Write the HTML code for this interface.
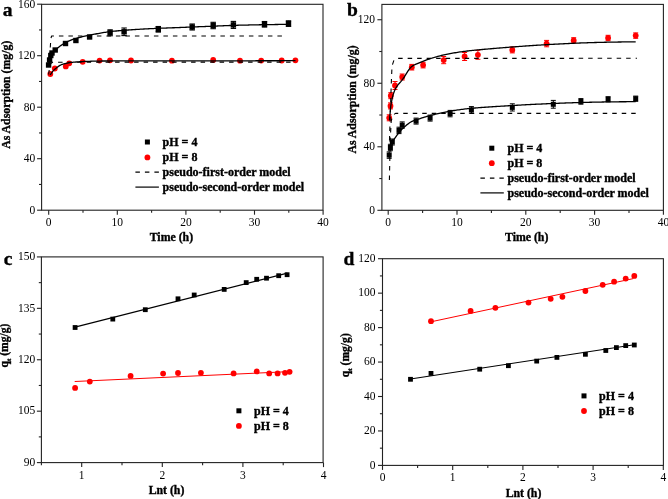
<!DOCTYPE html>
<html><head><meta charset="utf-8"><style>
html,body{margin:0;padding:0;background:#fff;}
body{width:668px;height:499px;overflow:hidden;}
svg{display:block;will-change:transform;filter:blur(0.3px);}
text{font-family:"Liberation Serif", serif;fill:#000;}
text[font-weight=bold]{stroke:#000;stroke-width:0.35px;}
</style></head><body>
<svg width="668" height="499" viewBox="0 0 668 499">
<rect width="668" height="499" fill="#fff"/>
<rect x="41.60" y="4.30" width="281.40" height="205.90" fill="none" stroke="#222" stroke-width="1.1"/>
<line x1="48.70" y1="210.20" x2="48.70" y2="214.70" stroke="#222" stroke-width="1.1" />
<line x1="117.30" y1="210.20" x2="117.30" y2="214.70" stroke="#222" stroke-width="1.1" />
<line x1="185.90" y1="210.20" x2="185.90" y2="214.70" stroke="#222" stroke-width="1.1" />
<line x1="254.50" y1="210.20" x2="254.50" y2="214.70" stroke="#222" stroke-width="1.1" />
<line x1="323.10" y1="210.20" x2="323.10" y2="214.70" stroke="#222" stroke-width="1.1" />
<line x1="83.00" y1="210.20" x2="83.00" y2="212.80" stroke="#222" stroke-width="1.1" />
<line x1="151.60" y1="210.20" x2="151.60" y2="212.80" stroke="#222" stroke-width="1.1" />
<line x1="220.20" y1="210.20" x2="220.20" y2="212.80" stroke="#222" stroke-width="1.1" />
<line x1="288.80" y1="210.20" x2="288.80" y2="212.80" stroke="#222" stroke-width="1.1" />
<line x1="41.60" y1="210.20" x2="37.10" y2="210.20" stroke="#222" stroke-width="1.1" />
<line x1="41.60" y1="158.70" x2="37.10" y2="158.70" stroke="#222" stroke-width="1.1" />
<line x1="41.60" y1="107.20" x2="37.10" y2="107.20" stroke="#222" stroke-width="1.1" />
<line x1="41.60" y1="55.70" x2="37.10" y2="55.70" stroke="#222" stroke-width="1.1" />
<line x1="41.60" y1="4.20" x2="37.10" y2="4.20" stroke="#222" stroke-width="1.1" />
<line x1="41.60" y1="184.45" x2="39.00" y2="184.45" stroke="#222" stroke-width="1.1" />
<line x1="41.60" y1="132.95" x2="39.00" y2="132.95" stroke="#222" stroke-width="1.1" />
<line x1="41.60" y1="81.45" x2="39.00" y2="81.45" stroke="#222" stroke-width="1.1" />
<line x1="41.60" y1="29.95" x2="39.00" y2="29.95" stroke="#222" stroke-width="1.1" />
<text x="48.70" y="226.00" font-size="11.5" font-weight="normal" text-anchor="middle" >0</text>
<text x="117.30" y="226.00" font-size="11.5" font-weight="normal" text-anchor="middle" >10</text>
<text x="185.90" y="226.00" font-size="11.5" font-weight="normal" text-anchor="middle" >20</text>
<text x="254.50" y="226.00" font-size="11.5" font-weight="normal" text-anchor="middle" >30</text>
<text x="323.10" y="226.00" font-size="11.5" font-weight="normal" text-anchor="middle" >40</text>
<text x="35.20" y="213.50" font-size="11.5" font-weight="normal" text-anchor="end" >0</text>
<text x="35.20" y="162.00" font-size="11.5" font-weight="normal" text-anchor="end" >40</text>
<text x="35.20" y="110.50" font-size="11.5" font-weight="normal" text-anchor="end" >80</text>
<text x="35.20" y="59.00" font-size="11.5" font-weight="normal" text-anchor="end" >120</text>
<text x="35.20" y="7.50" font-size="11.5" font-weight="normal" text-anchor="end" >160</text>
<text x="7.50" y="16.00" font-size="19.5" font-weight="bold" text-anchor="middle" >a</text>
<text x="171.40" y="240.80" font-size="11.8" font-weight="bold" text-anchor="middle" >Time (h)</text>
<text transform="translate(10.3,94.75) rotate(-90)" font-size="11.8" font-weight="bold" text-anchor="middle">As Adsorption (mg/g)</text>
<rect x="45.90" y="62.30" width="5.4" height="5.4" fill="#000"/>
<rect x="46.90" y="57.30" width="5.4" height="5.4" fill="#000"/>
<rect x="48.10" y="52.80" width="5.4" height="5.4" fill="#000"/>
<rect x="49.30" y="50.30" width="5.4" height="5.4" fill="#000"/>
<rect x="52.50" y="47.30" width="5.4" height="5.4" fill="#000"/>
<rect x="62.80" y="40.80" width="5.4" height="5.4" fill="#000"/>
<rect x="73.20" y="37.80" width="5.4" height="5.4" fill="#000"/>
<rect x="86.90" y="34.30" width="5.4" height="5.4" fill="#000"/>
<rect x="107.40" y="30.10" width="5.4" height="5.4" fill="#000"/>
<line x1="110.10" y1="29.80" x2="110.10" y2="35.80" stroke="#000" stroke-width="1.1" />
<line x1="107.40" y1="29.80" x2="112.80" y2="29.80" stroke="#000" stroke-width="1.1" />
<line x1="107.40" y1="35.80" x2="112.80" y2="35.80" stroke="#000" stroke-width="1.1" />
<rect x="121.40" y="29.10" width="5.4" height="5.4" fill="#000"/>
<line x1="124.10" y1="28.00" x2="124.10" y2="35.60" stroke="#000" stroke-width="1.1" />
<line x1="121.40" y1="28.00" x2="126.80" y2="28.00" stroke="#000" stroke-width="1.1" />
<line x1="121.40" y1="35.60" x2="126.80" y2="35.60" stroke="#000" stroke-width="1.1" />
<rect x="155.60" y="26.60" width="5.4" height="5.4" fill="#000"/>
<line x1="158.30" y1="26.50" x2="158.30" y2="32.10" stroke="#000" stroke-width="1.1" />
<line x1="155.60" y1="26.50" x2="161.00" y2="26.50" stroke="#000" stroke-width="1.1" />
<line x1="155.60" y1="32.10" x2="161.00" y2="32.10" stroke="#000" stroke-width="1.1" />
<rect x="189.50" y="24.30" width="5.4" height="5.4" fill="#000"/>
<line x1="192.20" y1="24.00" x2="192.20" y2="30.00" stroke="#000" stroke-width="1.1" />
<line x1="189.50" y1="24.00" x2="194.90" y2="24.00" stroke="#000" stroke-width="1.1" />
<line x1="189.50" y1="30.00" x2="194.90" y2="30.00" stroke="#000" stroke-width="1.1" />
<rect x="210.50" y="22.80" width="5.4" height="5.4" fill="#000"/>
<line x1="213.20" y1="22.30" x2="213.20" y2="28.70" stroke="#000" stroke-width="1.1" />
<line x1="210.50" y1="22.30" x2="215.90" y2="22.30" stroke="#000" stroke-width="1.1" />
<line x1="210.50" y1="28.70" x2="215.90" y2="28.70" stroke="#000" stroke-width="1.1" />
<rect x="230.70" y="22.20" width="5.4" height="5.4" fill="#000"/>
<line x1="233.40" y1="21.40" x2="233.40" y2="28.40" stroke="#000" stroke-width="1.1" />
<line x1="230.70" y1="21.40" x2="236.10" y2="21.40" stroke="#000" stroke-width="1.1" />
<line x1="230.70" y1="28.40" x2="236.10" y2="28.40" stroke="#000" stroke-width="1.1" />
<rect x="261.80" y="21.60" width="5.4" height="5.4" fill="#000"/>
<line x1="264.50" y1="21.50" x2="264.50" y2="27.10" stroke="#000" stroke-width="1.1" />
<line x1="261.80" y1="21.50" x2="267.20" y2="21.50" stroke="#000" stroke-width="1.1" />
<line x1="261.80" y1="27.10" x2="267.20" y2="27.10" stroke="#000" stroke-width="1.1" />
<rect x="285.80" y="20.90" width="5.4" height="5.4" fill="#000"/>
<line x1="288.50" y1="20.80" x2="288.50" y2="26.40" stroke="#000" stroke-width="1.1" />
<line x1="285.80" y1="20.80" x2="291.20" y2="20.80" stroke="#000" stroke-width="1.1" />
<line x1="285.80" y1="26.40" x2="291.20" y2="26.40" stroke="#000" stroke-width="1.1" />
<circle cx="50.30" cy="74.00" r="2.9" fill="#ff0000"/>
<circle cx="54.80" cy="68.50" r="2.9" fill="#ff0000"/>
<circle cx="65.80" cy="66.40" r="2.9" fill="#ff0000"/>
<circle cx="69.20" cy="63.30" r="2.9" fill="#ff0000"/>
<circle cx="82.70" cy="61.80" r="2.9" fill="#ff0000"/>
<circle cx="99.60" cy="60.60" r="2.9" fill="#ff0000"/>
<circle cx="110.00" cy="60.30" r="2.9" fill="#ff0000"/>
<circle cx="131.00" cy="60.50" r="2.9" fill="#ff0000"/>
<circle cx="171.90" cy="60.70" r="2.9" fill="#ff0000"/>
<circle cx="213.20" cy="60.00" r="2.9" fill="#ff0000"/>
<circle cx="240.00" cy="60.70" r="2.9" fill="#ff0000"/>
<circle cx="261.20" cy="60.60" r="2.9" fill="#ff0000"/>
<circle cx="281.70" cy="60.50" r="2.9" fill="#ff0000"/>
<circle cx="295.40" cy="60.30" r="2.9" fill="#ff0000"/>
<polyline points="48.60,66.50 50.30,47.00 50.90,38.50 51.60,36.00 285.00,36.00" fill="none" stroke="#000" stroke-width="1.1" stroke-dasharray="4.5 5" stroke-linejoin="round"/>
<polyline points="48.60,74.50 49.60,67.00 50.80,63.50 52.50,62.20 295.00,62.10" fill="none" stroke="#000" stroke-width="1.1" stroke-dasharray="4.5 5" stroke-linejoin="round"/>
<polyline points="48.70,66.00 49.91,59.93 51.11,55.39 52.32,53.18 53.52,51.71 54.73,50.59 55.93,49.56 57.14,48.50 58.34,47.48 59.55,46.51 60.75,45.60 61.96,44.74 63.16,43.95 64.37,43.22 65.57,42.56 66.78,41.96 67.98,41.39 69.19,40.86 70.39,40.36 71.60,39.89 72.80,39.44 74.01,39.03 75.21,38.64 76.42,38.28 77.62,37.93 78.83,37.60 80.03,37.29 81.24,37.00 82.44,36.71 83.65,36.44 84.85,36.18 86.06,35.92 87.26,35.67 88.47,35.43 89.67,35.19 90.88,34.94 92.08,34.70 93.29,34.46 94.49,34.23 95.70,33.99 96.90,33.76 98.11,33.53 99.31,33.30 100.52,33.08 101.72,32.87 102.93,32.66 104.13,32.46 105.34,32.27 106.54,32.09 107.75,31.92 108.95,31.76 110.16,31.61 111.36,31.47 112.57,31.34 113.77,31.22 114.98,31.10 116.18,30.99 117.39,30.87 118.59,30.76 119.80,30.66 121.00,30.56 122.21,30.45 123.41,30.36 124.62,30.26 125.82,30.17 127.03,30.08 128.23,29.99 129.44,29.91 130.64,29.82 131.85,29.74 133.05,29.66 134.26,29.58 135.46,29.51 136.67,29.43 137.87,29.36 139.08,29.29 140.28,29.22 141.49,29.15 142.69,29.08 143.90,29.02 145.10,28.95 146.31,28.89 147.51,28.83 148.72,28.77 149.92,28.70 151.13,28.64 152.33,28.59 153.54,28.53 154.74,28.47 155.95,28.42 157.15,28.37 158.36,28.32 159.56,28.27 160.77,28.22 161.97,28.18 163.18,28.13 164.38,28.08 165.59,28.04 166.79,27.99 168.00,27.95 169.20,27.91 170.41,27.86 171.61,27.82 172.82,27.77 174.02,27.73 175.23,27.68 176.43,27.64 177.64,27.59 178.84,27.55 180.05,27.50 181.25,27.45 182.46,27.40 183.66,27.35 184.87,27.30 186.07,27.26 187.28,27.21 188.48,27.16 189.69,27.11 190.89,27.06 192.10,27.01 193.30,26.96 194.51,26.91 195.71,26.86 196.92,26.82 198.12,26.77 199.33,26.72 200.53,26.67 201.74,26.62 202.94,26.58 204.15,26.53 205.35,26.48 206.56,26.43 207.76,26.39 208.97,26.34 210.17,26.29 211.38,26.25 212.58,26.20 213.79,26.15 214.99,26.10 216.20,26.05 217.40,26.00 218.61,25.95 219.81,25.90 221.02,25.86 222.22,25.81 223.43,25.76 224.63,25.71 225.84,25.66 227.04,25.61 228.25,25.57 229.45,25.52 230.66,25.48 231.86,25.44 233.07,25.40 234.27,25.36 235.48,25.32 236.68,25.29 237.89,25.25 239.09,25.22 240.30,25.19 241.50,25.16 242.71,25.14 243.91,25.11 245.12,25.08 246.32,25.05 247.53,25.03 248.73,25.00 249.94,24.97 251.14,24.95 252.35,24.92 253.55,24.89 254.76,24.87 255.96,24.84 257.17,24.82 258.37,24.79 259.58,24.77 260.78,24.75 261.99,24.72 263.19,24.70 264.40,24.68 265.60,24.66 266.81,24.64 268.01,24.62 269.22,24.60 270.42,24.58 271.63,24.56 272.83,24.55 274.04,24.53 275.24,24.51 276.45,24.50 277.65,24.48 278.86,24.47 280.06,24.46 281.27,24.45 282.47,24.44 283.68,24.43 284.88,24.42 286.09,24.41 287.29,24.41 288.50,24.40" fill="none" stroke="#000" stroke-width="1.3"  stroke-linejoin="round"/>
<polyline points="50.20,75.00 51.43,73.04 52.67,71.39 53.90,70.08 55.13,68.99 56.36,68.02 57.60,67.05 58.83,66.13 60.06,65.33 61.29,64.71 62.53,64.29 63.76,63.92 64.99,63.59 66.22,63.30 67.46,63.04 68.69,62.82 69.92,62.63 71.16,62.46 72.39,62.33 73.62,62.20 74.85,62.08 76.09,61.98 77.32,61.88 78.55,61.79 79.78,61.71 81.02,61.64 82.25,61.58 83.48,61.52 84.71,61.47 85.95,61.43 87.18,61.38 88.41,61.34 89.65,61.29 90.88,61.25 92.11,61.22 93.34,61.18 94.58,61.15 95.81,61.12 97.04,61.09 98.27,61.06 99.51,61.04 100.74,61.03 101.97,61.01 103.20,61.00 104.44,61.00 105.67,60.99 106.90,60.99 108.14,60.99 109.37,60.98 110.60,60.98 111.83,60.98 113.07,60.97 114.30,60.97 115.53,60.97 116.76,60.97 118.00,60.96 119.23,60.96 120.46,60.96 121.69,60.96 122.93,60.95 124.16,60.95 125.39,60.95 126.63,60.95 127.86,60.95 129.09,60.94 130.32,60.94 131.56,60.94 132.79,60.94 134.02,60.94 135.25,60.94 136.49,60.94 137.72,60.93 138.95,60.93 140.18,60.93 141.42,60.93 142.65,60.93 143.88,60.93 145.12,60.93 146.35,60.93 147.58,60.93 148.81,60.92 150.05,60.92 151.28,60.92 152.51,60.92 153.74,60.92 154.98,60.92 156.21,60.92 157.44,60.92 158.67,60.92 159.91,60.91 161.14,60.91 162.37,60.91 163.61,60.91 164.84,60.91 166.07,60.91 167.30,60.91 168.54,60.90 169.77,60.90 171.00,60.90 172.23,60.90 173.47,60.90 174.70,60.90 175.93,60.89 177.16,60.89 178.40,60.89 179.63,60.89 180.86,60.89 182.09,60.89 183.33,60.88 184.56,60.88 185.79,60.88 187.03,60.88 188.26,60.88 189.49,60.87 190.72,60.87 191.96,60.87 193.19,60.87 194.42,60.87 195.65,60.87 196.89,60.86 198.12,60.86 199.35,60.86 200.58,60.86 201.82,60.86 203.05,60.86 204.28,60.85 205.52,60.85 206.75,60.85 207.98,60.85 209.21,60.85 210.45,60.84 211.68,60.84 212.91,60.84 214.14,60.84 215.38,60.84 216.61,60.84 217.84,60.83 219.07,60.83 220.31,60.83 221.54,60.83 222.77,60.83 224.01,60.82 225.24,60.82 226.47,60.82 227.70,60.82 228.94,60.82 230.17,60.82 231.40,60.81 232.63,60.81 233.87,60.81 235.10,60.81 236.33,60.81 237.56,60.80 238.80,60.80 240.03,60.80 241.26,60.80 242.50,60.80 243.73,60.79 244.96,60.79 246.19,60.79 247.43,60.79 248.66,60.79 249.89,60.78 251.12,60.78 252.36,60.78 253.59,60.78 254.82,60.78 256.05,60.77 257.29,60.77 258.52,60.77 259.75,60.77 260.99,60.76 262.22,60.76 263.45,60.76 264.68,60.76 265.92,60.76 267.15,60.75 268.38,60.75 269.61,60.75 270.85,60.75 272.08,60.74 273.31,60.74 274.54,60.74 275.78,60.74 277.01,60.74 278.24,60.73 279.48,60.73 280.71,60.73 281.94,60.73 283.17,60.72 284.41,60.72 285.64,60.72 286.87,60.72 288.10,60.71 289.34,60.71 290.57,60.71 291.80,60.71 293.03,60.70 294.27,60.70 295.50,60.70" fill="none" stroke="#000" stroke-width="1.3"  stroke-linejoin="round"/>
<rect x="144.90" y="139.50" width="5.0" height="5.0" fill="#000"/>
<circle cx="147.40" cy="157.40" r="2.9" fill="#ff0000"/>
<text x="162.60" y="145.80" font-size="12.0" font-weight="bold" text-anchor="start" >pH = 4</text>
<text x="162.60" y="161.20" font-size="12.0" font-weight="bold" text-anchor="start" >pH = 8</text>
<line x1="135.40" y1="172.10" x2="158.90" y2="172.10" stroke="#000" stroke-width="1.2" stroke-dasharray="4.5 5"/>
<line x1="135.40" y1="187.10" x2="158.90" y2="187.10" stroke="#000" stroke-width="1.2" />
<text x="162.60" y="175.90" font-size="12.0" font-weight="bold" text-anchor="start" >pseudo-first-order model</text>
<text x="162.60" y="190.90" font-size="12.0" font-weight="bold" text-anchor="start" >pseudo-second-order model</text>
<rect x="381.90" y="4.40" width="281.50" height="205.90" fill="none" stroke="#222" stroke-width="1.1"/>
<line x1="388.20" y1="210.30" x2="388.20" y2="214.80" stroke="#222" stroke-width="1.1" />
<line x1="457.00" y1="210.30" x2="457.00" y2="214.80" stroke="#222" stroke-width="1.1" />
<line x1="525.80" y1="210.30" x2="525.80" y2="214.80" stroke="#222" stroke-width="1.1" />
<line x1="594.60" y1="210.30" x2="594.60" y2="214.80" stroke="#222" stroke-width="1.1" />
<line x1="663.40" y1="210.30" x2="663.40" y2="214.80" stroke="#222" stroke-width="1.1" />
<line x1="422.60" y1="210.30" x2="422.60" y2="212.90" stroke="#222" stroke-width="1.1" />
<line x1="491.40" y1="210.30" x2="491.40" y2="212.90" stroke="#222" stroke-width="1.1" />
<line x1="560.20" y1="210.30" x2="560.20" y2="212.90" stroke="#222" stroke-width="1.1" />
<line x1="629.00" y1="210.30" x2="629.00" y2="212.90" stroke="#222" stroke-width="1.1" />
<line x1="381.90" y1="210.30" x2="377.40" y2="210.30" stroke="#222" stroke-width="1.1" />
<line x1="381.90" y1="146.78" x2="377.40" y2="146.78" stroke="#222" stroke-width="1.1" />
<line x1="381.90" y1="83.26" x2="377.40" y2="83.26" stroke="#222" stroke-width="1.1" />
<line x1="381.90" y1="19.74" x2="377.40" y2="19.74" stroke="#222" stroke-width="1.1" />
<line x1="381.90" y1="178.54" x2="379.30" y2="178.54" stroke="#222" stroke-width="1.1" />
<line x1="381.90" y1="115.02" x2="379.30" y2="115.02" stroke="#222" stroke-width="1.1" />
<line x1="381.90" y1="51.50" x2="379.30" y2="51.50" stroke="#222" stroke-width="1.1" />
<text x="388.20" y="226.00" font-size="11.5" font-weight="normal" text-anchor="middle" >0</text>
<text x="457.00" y="226.00" font-size="11.5" font-weight="normal" text-anchor="middle" >10</text>
<text x="525.80" y="226.00" font-size="11.5" font-weight="normal" text-anchor="middle" >20</text>
<text x="594.60" y="226.00" font-size="11.5" font-weight="normal" text-anchor="middle" >30</text>
<text x="663.40" y="226.00" font-size="11.5" font-weight="normal" text-anchor="middle" >40</text>
<text x="375.00" y="213.60" font-size="11.5" font-weight="normal" text-anchor="end" >0</text>
<text x="375.00" y="150.08" font-size="11.5" font-weight="normal" text-anchor="end" >40</text>
<text x="375.00" y="86.56" font-size="11.5" font-weight="normal" text-anchor="end" >80</text>
<text x="375.00" y="23.04" font-size="11.5" font-weight="normal" text-anchor="end" >120</text>
<text x="352.50" y="16.00" font-size="19.5" font-weight="bold" text-anchor="middle" >b</text>
<text x="526.70" y="240.60" font-size="11.8" font-weight="bold" text-anchor="middle" >Time (h)</text>
<text transform="translate(355.8,99.5) rotate(-90)" font-size="11.8" font-weight="bold" text-anchor="middle">As Adsorption (mg/g)</text>
<rect x="386.70" y="152.60" width="5.0" height="5.0" fill="#000"/>
<line x1="389.20" y1="151.90" x2="389.20" y2="158.30" stroke="#000" stroke-width="1.0" />
<line x1="386.70" y1="151.90" x2="391.70" y2="151.90" stroke="#000" stroke-width="1.0" />
<line x1="386.70" y1="158.30" x2="391.70" y2="158.30" stroke="#000" stroke-width="1.0" />
<rect x="387.90" y="145.00" width="5.0" height="5.0" fill="#000"/>
<line x1="390.40" y1="144.30" x2="390.40" y2="150.70" stroke="#000" stroke-width="1.0" />
<line x1="387.90" y1="144.30" x2="392.90" y2="144.30" stroke="#000" stroke-width="1.0" />
<line x1="387.90" y1="150.70" x2="392.90" y2="150.70" stroke="#000" stroke-width="1.0" />
<rect x="389.80" y="139.50" width="5.0" height="5.0" fill="#000"/>
<line x1="392.30" y1="139.00" x2="392.30" y2="145.00" stroke="#000" stroke-width="1.0" />
<line x1="389.80" y1="139.00" x2="394.80" y2="139.00" stroke="#000" stroke-width="1.0" />
<line x1="389.80" y1="145.00" x2="394.80" y2="145.00" stroke="#000" stroke-width="1.0" />
<rect x="396.50" y="127.90" width="5.0" height="5.0" fill="#000"/>
<line x1="399.00" y1="127.20" x2="399.00" y2="133.60" stroke="#000" stroke-width="1.0" />
<line x1="396.50" y1="127.20" x2="401.50" y2="127.20" stroke="#000" stroke-width="1.0" />
<line x1="396.50" y1="133.60" x2="401.50" y2="133.60" stroke="#000" stroke-width="1.0" />
<rect x="399.70" y="122.60" width="5.0" height="5.0" fill="#000"/>
<line x1="402.20" y1="121.90" x2="402.20" y2="128.30" stroke="#000" stroke-width="1.0" />
<line x1="399.70" y1="121.90" x2="404.70" y2="121.90" stroke="#000" stroke-width="1.0" />
<line x1="399.70" y1="128.30" x2="404.70" y2="128.30" stroke="#000" stroke-width="1.0" />
<rect x="413.60" y="118.60" width="5.0" height="5.0" fill="#000"/>
<line x1="416.10" y1="118.10" x2="416.10" y2="124.10" stroke="#000" stroke-width="1.0" />
<line x1="413.60" y1="118.10" x2="418.60" y2="118.10" stroke="#000" stroke-width="1.0" />
<line x1="413.60" y1="124.10" x2="418.60" y2="124.10" stroke="#000" stroke-width="1.0" />
<rect x="427.60" y="115.60" width="5.0" height="5.0" fill="#000"/>
<line x1="430.10" y1="115.10" x2="430.10" y2="121.10" stroke="#000" stroke-width="1.0" />
<line x1="427.60" y1="115.10" x2="432.60" y2="115.10" stroke="#000" stroke-width="1.0" />
<line x1="427.60" y1="121.10" x2="432.60" y2="121.10" stroke="#000" stroke-width="1.0" />
<rect x="447.60" y="111.10" width="5.0" height="5.0" fill="#000"/>
<line x1="450.10" y1="110.40" x2="450.10" y2="116.80" stroke="#000" stroke-width="1.0" />
<line x1="447.60" y1="110.40" x2="452.60" y2="110.40" stroke="#000" stroke-width="1.0" />
<line x1="447.60" y1="116.80" x2="452.60" y2="116.80" stroke="#000" stroke-width="1.0" />
<rect x="468.90" y="107.40" width="5.0" height="5.0" fill="#000"/>
<line x1="471.40" y1="106.60" x2="471.40" y2="113.20" stroke="#000" stroke-width="1.0" />
<line x1="468.90" y1="106.60" x2="473.90" y2="106.60" stroke="#000" stroke-width="1.0" />
<line x1="468.90" y1="113.20" x2="473.90" y2="113.20" stroke="#000" stroke-width="1.0" />
<rect x="509.80" y="104.90" width="5.0" height="5.0" fill="#000"/>
<line x1="512.30" y1="103.80" x2="512.30" y2="111.00" stroke="#000" stroke-width="1.0" />
<line x1="509.80" y1="103.80" x2="514.80" y2="103.80" stroke="#000" stroke-width="1.0" />
<line x1="509.80" y1="111.00" x2="514.80" y2="111.00" stroke="#000" stroke-width="1.0" />
<rect x="550.80" y="101.80" width="5.0" height="5.0" fill="#000"/>
<line x1="553.30" y1="100.40" x2="553.30" y2="108.20" stroke="#000" stroke-width="1.0" />
<line x1="550.80" y1="100.40" x2="555.80" y2="100.40" stroke="#000" stroke-width="1.0" />
<line x1="550.80" y1="108.20" x2="555.80" y2="108.20" stroke="#000" stroke-width="1.0" />
<rect x="578.40" y="98.90" width="5.0" height="5.0" fill="#000"/>
<line x1="580.90" y1="98.60" x2="580.90" y2="104.20" stroke="#000" stroke-width="1.0" />
<line x1="578.40" y1="98.60" x2="583.40" y2="98.60" stroke="#000" stroke-width="1.0" />
<line x1="578.40" y1="104.20" x2="583.40" y2="104.20" stroke="#000" stroke-width="1.0" />
<rect x="605.60" y="96.80" width="5.0" height="5.0" fill="#000"/>
<line x1="608.10" y1="96.70" x2="608.10" y2="101.90" stroke="#000" stroke-width="1.0" />
<line x1="605.60" y1="96.70" x2="610.60" y2="96.70" stroke="#000" stroke-width="1.0" />
<line x1="605.60" y1="101.90" x2="610.60" y2="101.90" stroke="#000" stroke-width="1.0" />
<rect x="633.20" y="96.20" width="5.0" height="5.0" fill="#000"/>
<line x1="635.70" y1="96.10" x2="635.70" y2="101.30" stroke="#000" stroke-width="1.0" />
<line x1="633.20" y1="96.10" x2="638.20" y2="96.10" stroke="#000" stroke-width="1.0" />
<line x1="633.20" y1="101.30" x2="638.20" y2="101.30" stroke="#000" stroke-width="1.0" />
<circle cx="389.20" cy="117.80" r="2.9" fill="#ff0000"/>
<line x1="389.20" y1="114.80" x2="389.20" y2="120.80" stroke="#ff0000" stroke-width="1.0" />
<line x1="386.70" y1="114.80" x2="391.70" y2="114.80" stroke="#ff0000" stroke-width="1.0" />
<line x1="386.70" y1="120.80" x2="391.70" y2="120.80" stroke="#ff0000" stroke-width="1.0" />
<circle cx="390.50" cy="105.90" r="2.9" fill="#ff0000"/>
<line x1="390.50" y1="102.90" x2="390.50" y2="108.90" stroke="#ff0000" stroke-width="1.0" />
<line x1="388.00" y1="102.90" x2="393.00" y2="102.90" stroke="#ff0000" stroke-width="1.0" />
<line x1="388.00" y1="108.90" x2="393.00" y2="108.90" stroke="#ff0000" stroke-width="1.0" />
<circle cx="390.80" cy="95.70" r="2.9" fill="#ff0000"/>
<line x1="390.80" y1="92.70" x2="390.80" y2="98.70" stroke="#ff0000" stroke-width="1.0" />
<line x1="388.30" y1="92.70" x2="393.30" y2="92.70" stroke="#ff0000" stroke-width="1.0" />
<line x1="388.30" y1="98.70" x2="393.30" y2="98.70" stroke="#ff0000" stroke-width="1.0" />
<circle cx="395.00" cy="85.50" r="2.9" fill="#ff0000"/>
<line x1="395.00" y1="81.50" x2="395.00" y2="89.50" stroke="#ff0000" stroke-width="1.0" />
<line x1="392.50" y1="81.50" x2="397.50" y2="81.50" stroke="#ff0000" stroke-width="1.0" />
<line x1="392.50" y1="89.50" x2="397.50" y2="89.50" stroke="#ff0000" stroke-width="1.0" />
<circle cx="402.20" cy="77.00" r="2.9" fill="#ff0000"/>
<line x1="402.20" y1="74.00" x2="402.20" y2="80.00" stroke="#ff0000" stroke-width="1.0" />
<line x1="399.70" y1="74.00" x2="404.70" y2="74.00" stroke="#ff0000" stroke-width="1.0" />
<line x1="399.70" y1="80.00" x2="404.70" y2="80.00" stroke="#ff0000" stroke-width="1.0" />
<circle cx="411.80" cy="67.20" r="2.9" fill="#ff0000"/>
<line x1="411.80" y1="64.40" x2="411.80" y2="70.00" stroke="#ff0000" stroke-width="1.0" />
<line x1="409.30" y1="64.40" x2="414.30" y2="64.40" stroke="#ff0000" stroke-width="1.0" />
<line x1="409.30" y1="70.00" x2="414.30" y2="70.00" stroke="#ff0000" stroke-width="1.0" />
<circle cx="423.10" cy="65.10" r="2.9" fill="#ff0000"/>
<line x1="423.10" y1="62.30" x2="423.10" y2="67.90" stroke="#ff0000" stroke-width="1.0" />
<line x1="420.60" y1="62.30" x2="425.60" y2="62.30" stroke="#ff0000" stroke-width="1.0" />
<line x1="420.60" y1="67.90" x2="425.60" y2="67.90" stroke="#ff0000" stroke-width="1.0" />
<circle cx="443.70" cy="60.10" r="2.9" fill="#ff0000"/>
<line x1="443.70" y1="56.50" x2="443.70" y2="63.70" stroke="#ff0000" stroke-width="1.0" />
<line x1="441.20" y1="56.50" x2="446.20" y2="56.50" stroke="#ff0000" stroke-width="1.0" />
<line x1="441.20" y1="63.70" x2="446.20" y2="63.70" stroke="#ff0000" stroke-width="1.0" />
<circle cx="464.60" cy="56.50" r="2.9" fill="#ff0000"/>
<line x1="464.60" y1="52.50" x2="464.60" y2="60.50" stroke="#ff0000" stroke-width="1.0" />
<line x1="462.10" y1="52.50" x2="467.10" y2="52.50" stroke="#ff0000" stroke-width="1.0" />
<line x1="462.10" y1="60.50" x2="467.10" y2="60.50" stroke="#ff0000" stroke-width="1.0" />
<circle cx="477.90" cy="54.80" r="2.9" fill="#ff0000"/>
<line x1="477.90" y1="50.30" x2="477.90" y2="59.30" stroke="#ff0000" stroke-width="1.0" />
<line x1="475.40" y1="50.30" x2="480.40" y2="50.30" stroke="#ff0000" stroke-width="1.0" />
<line x1="475.40" y1="59.30" x2="480.40" y2="59.30" stroke="#ff0000" stroke-width="1.0" />
<circle cx="512.30" cy="49.90" r="2.9" fill="#ff0000"/>
<line x1="512.30" y1="46.90" x2="512.30" y2="52.90" stroke="#ff0000" stroke-width="1.0" />
<line x1="509.80" y1="46.90" x2="514.80" y2="46.90" stroke="#ff0000" stroke-width="1.0" />
<line x1="509.80" y1="52.90" x2="514.80" y2="52.90" stroke="#ff0000" stroke-width="1.0" />
<circle cx="546.60" cy="43.60" r="2.9" fill="#ff0000"/>
<line x1="546.60" y1="40.40" x2="546.60" y2="46.80" stroke="#ff0000" stroke-width="1.0" />
<line x1="544.10" y1="40.40" x2="549.10" y2="40.40" stroke="#ff0000" stroke-width="1.0" />
<line x1="544.10" y1="46.80" x2="549.10" y2="46.80" stroke="#ff0000" stroke-width="1.0" />
<circle cx="573.70" cy="40.40" r="2.9" fill="#ff0000"/>
<line x1="573.70" y1="37.70" x2="573.70" y2="43.10" stroke="#ff0000" stroke-width="1.0" />
<line x1="571.20" y1="37.70" x2="576.20" y2="37.70" stroke="#ff0000" stroke-width="1.0" />
<line x1="571.20" y1="43.10" x2="576.20" y2="43.10" stroke="#ff0000" stroke-width="1.0" />
<circle cx="608.10" cy="38.00" r="2.9" fill="#ff0000"/>
<line x1="608.10" y1="35.30" x2="608.10" y2="40.70" stroke="#ff0000" stroke-width="1.0" />
<line x1="605.60" y1="35.30" x2="610.60" y2="35.30" stroke="#ff0000" stroke-width="1.0" />
<line x1="605.60" y1="40.70" x2="610.60" y2="40.70" stroke="#ff0000" stroke-width="1.0" />
<circle cx="635.70" cy="35.60" r="2.9" fill="#ff0000"/>
<line x1="635.70" y1="32.90" x2="635.70" y2="38.30" stroke="#ff0000" stroke-width="1.0" />
<line x1="633.20" y1="32.90" x2="638.20" y2="32.90" stroke="#ff0000" stroke-width="1.0" />
<line x1="633.20" y1="38.30" x2="638.20" y2="38.30" stroke="#ff0000" stroke-width="1.0" />
<polyline points="389.40,180.00 390.20,140.00 391.20,121.00 393.00,115.00 395.50,113.40 635.70,113.40" fill="none" stroke="#000" stroke-width="1.1" stroke-dasharray="4.5 5" stroke-linejoin="round"/>
<polyline points="389.20,150.00 390.40,110.00 391.20,86.00 392.00,66.00 394.00,60.00 396.50,58.40 637.00,58.30" fill="none" stroke="#000" stroke-width="1.1" stroke-dasharray="4.5 5" stroke-linejoin="round"/>
<polyline points="389.80,146.00 391.04,143.94 392.27,141.95 393.51,140.05 394.74,138.26 395.98,136.55 397.21,134.86 398.45,133.24 399.69,131.71 400.92,130.30 402.16,129.04 403.39,127.88 404.63,126.75 405.86,125.66 407.10,124.62 408.34,123.66 409.57,122.79 410.81,122.03 412.04,121.40 413.28,120.90 414.51,120.45 415.75,120.02 416.98,119.59 418.22,119.17 419.46,118.76 420.69,118.36 421.93,117.97 423.16,117.59 424.40,117.21 425.63,116.84 426.87,116.49 428.11,116.14 429.34,115.79 430.58,115.46 431.81,115.13 433.05,114.81 434.28,114.50 435.52,114.20 436.76,113.90 437.99,113.62 439.23,113.33 440.46,113.06 441.70,112.79 442.93,112.53 444.17,112.28 445.41,112.04 446.64,111.80 447.88,111.57 449.11,111.34 450.35,111.12 451.58,110.91 452.82,110.70 454.06,110.50 455.29,110.31 456.53,110.12 457.76,109.94 459.00,109.77 460.23,109.60 461.47,109.43 462.71,109.27 463.94,109.12 465.18,108.97 466.41,108.83 467.65,108.70 468.88,108.56 470.12,108.44 471.35,108.32 472.59,108.20 473.83,108.09 475.06,107.98 476.30,107.88 477.53,107.78 478.77,107.69 480.00,107.60 481.24,107.51 482.48,107.43 483.71,107.34 484.95,107.26 486.18,107.17 487.42,107.09 488.65,107.01 489.89,106.92 491.13,106.84 492.36,106.76 493.60,106.68 494.83,106.60 496.07,106.52 497.30,106.44 498.54,106.36 499.78,106.28 501.01,106.21 502.25,106.13 503.48,106.05 504.72,105.98 505.95,105.90 507.19,105.83 508.43,105.75 509.66,105.68 510.90,105.60 512.13,105.53 513.37,105.46 514.60,105.39 515.84,105.32 517.07,105.25 518.31,105.18 519.55,105.11 520.78,105.04 522.02,104.97 523.25,104.91 524.49,104.84 525.72,104.77 526.96,104.71 528.20,104.64 529.43,104.58 530.67,104.52 531.90,104.45 533.14,104.39 534.37,104.33 535.61,104.27 536.85,104.21 538.08,104.15 539.32,104.09 540.55,104.03 541.79,103.98 543.02,103.92 544.26,103.86 545.50,103.81 546.73,103.75 547.97,103.70 549.20,103.64 550.44,103.59 551.67,103.54 552.91,103.49 554.15,103.44 555.38,103.39 556.62,103.34 557.85,103.29 559.09,103.24 560.32,103.19 561.56,103.14 562.79,103.10 564.03,103.05 565.27,103.01 566.50,102.96 567.74,102.92 568.97,102.88 570.21,102.84 571.44,102.79 572.68,102.75 573.92,102.71 575.15,102.67 576.39,102.64 577.62,102.60 578.86,102.56 580.09,102.53 581.33,102.49 582.57,102.46 583.80,102.42 585.04,102.39 586.27,102.36 587.51,102.32 588.74,102.29 589.98,102.26 591.22,102.23 592.45,102.20 593.69,102.18 594.92,102.15 596.16,102.12 597.39,102.10 598.63,102.07 599.87,102.05 601.10,102.03 602.34,102.00 603.57,101.98 604.81,101.96 606.04,101.94 607.28,101.92 608.52,101.90 609.75,101.88 610.99,101.87 612.22,101.85 613.46,101.84 614.69,101.82 615.93,101.81 617.16,101.79 618.40,101.78 619.64,101.77 620.87,101.76 622.11,101.75 623.34,101.74 624.58,101.73 625.81,101.73 627.05,101.72 628.29,101.72 629.52,101.71 630.76,101.71 631.99,101.70 633.23,101.70 634.46,101.70 635.70,101.70" fill="none" stroke="#000" stroke-width="1.3"  stroke-linejoin="round"/>
<polyline points="389.50,120.00 390.74,106.21 391.97,99.28 393.21,94.39 394.45,90.93 395.69,88.34 396.92,86.31 398.16,84.67 399.40,83.26 400.63,81.90 401.87,80.43 403.11,78.72 404.35,76.84 405.58,74.86 406.82,72.87 408.06,70.95 409.29,69.18 410.53,67.64 411.77,66.42 413.01,65.60 414.24,65.01 415.48,64.43 416.72,63.87 417.96,63.32 419.19,62.79 420.43,62.28 421.67,61.78 422.90,61.29 424.14,60.82 425.38,60.36 426.62,59.91 427.85,59.48 429.09,59.06 430.33,58.65 431.56,58.25 432.80,57.87 434.04,57.50 435.28,57.14 436.51,56.79 437.75,56.45 438.99,56.12 440.22,55.81 441.46,55.50 442.70,55.20 443.94,54.92 445.17,54.64 446.41,54.37 447.65,54.11 448.88,53.86 450.12,53.62 451.36,53.39 452.60,53.16 453.83,52.95 455.07,52.74 456.31,52.53 457.55,52.34 458.78,52.15 460.02,51.96 461.26,51.79 462.49,51.62 463.73,51.45 464.97,51.29 466.21,51.14 467.44,50.99 468.68,50.85 469.92,50.71 471.15,50.57 472.39,50.44 473.63,50.31 474.87,50.19 476.10,50.06 477.34,49.95 478.58,49.83 479.81,49.72 481.05,49.60 482.29,49.49 483.53,49.38 484.76,49.27 486.00,49.16 487.24,49.06 488.47,48.95 489.71,48.84 490.95,48.73 492.19,48.63 493.42,48.52 494.66,48.42 495.90,48.31 497.14,48.21 498.37,48.11 499.61,48.00 500.85,47.90 502.08,47.80 503.32,47.70 504.56,47.60 505.80,47.50 507.03,47.40 508.27,47.31 509.51,47.21 510.74,47.11 511.98,47.02 513.22,46.92 514.46,46.83 515.69,46.74 516.93,46.65 518.17,46.55 519.40,46.46 520.64,46.37 521.88,46.28 523.12,46.20 524.35,46.11 525.59,46.02 526.83,45.93 528.06,45.85 529.30,45.76 530.54,45.68 531.78,45.60 533.01,45.51 534.25,45.43 535.49,45.35 536.73,45.27 537.96,45.19 539.20,45.12 540.44,45.04 541.67,44.96 542.91,44.89 544.15,44.81 545.39,44.74 546.62,44.66 547.86,44.59 549.10,44.52 550.33,44.45 551.57,44.38 552.81,44.31 554.05,44.24 555.28,44.17 556.52,44.11 557.76,44.04 558.99,43.98 560.23,43.91 561.47,43.85 562.71,43.79 563.94,43.73 565.18,43.67 566.42,43.61 567.65,43.55 568.89,43.49 570.13,43.44 571.37,43.38 572.60,43.33 573.84,43.27 575.08,43.22 576.32,43.17 577.55,43.12 578.79,43.07 580.03,43.02 581.26,42.97 582.50,42.93 583.74,42.88 584.98,42.84 586.21,42.79 587.45,42.75 588.69,42.71 589.92,42.67 591.16,42.63 592.40,42.59 593.64,42.55 594.87,42.51 596.11,42.48 597.35,42.44 598.58,42.41 599.82,42.38 601.06,42.34 602.30,42.31 603.53,42.28 604.77,42.26 606.01,42.23 607.24,42.20 608.48,42.18 609.72,42.15 610.96,42.13 612.19,42.11 613.43,42.09 614.67,42.07 615.91,42.05 617.14,42.03 618.38,42.01 619.62,42.00 620.85,41.98 622.09,41.97 623.33,41.96 624.57,41.95 625.80,41.94 627.04,41.93 628.28,41.92 629.51,41.91 630.75,41.91 631.99,41.91 633.23,41.90 634.46,41.90 635.70,41.90" fill="none" stroke="#000" stroke-width="1.3"  stroke-linejoin="round"/>
<rect x="489.30" y="145.70" width="5.0" height="5.0" fill="#000"/>
<circle cx="491.80" cy="163.20" r="2.9" fill="#ff0000"/>
<text x="507.50" y="152.00" font-size="12.0" font-weight="bold" text-anchor="start" >pH = 4</text>
<text x="507.50" y="167.00" font-size="12.0" font-weight="bold" text-anchor="start" >pH = 8</text>
<line x1="480.40" y1="178.20" x2="503.80" y2="178.20" stroke="#000" stroke-width="1.2" stroke-dasharray="4.5 5"/>
<line x1="480.40" y1="192.90" x2="503.80" y2="192.90" stroke="#000" stroke-width="1.2" />
<text x="507.50" y="182.00" font-size="12.0" font-weight="bold" text-anchor="start" >pseudo-first-order model</text>
<text x="507.50" y="196.70" font-size="12.0" font-weight="bold" text-anchor="start" >pseudo-second-order model</text>
<rect x="41.40" y="256.90" width="281.70" height="205.70" fill="none" stroke="#222" stroke-width="1.1"/>
<line x1="81.70" y1="462.60" x2="81.70" y2="467.10" stroke="#222" stroke-width="1.1" />
<line x1="162.30" y1="462.60" x2="162.30" y2="467.10" stroke="#222" stroke-width="1.1" />
<line x1="242.90" y1="462.60" x2="242.90" y2="467.10" stroke="#222" stroke-width="1.1" />
<line x1="323.50" y1="462.60" x2="323.50" y2="467.10" stroke="#222" stroke-width="1.1" />
<line x1="41.40" y1="462.60" x2="41.40" y2="465.20" stroke="#222" stroke-width="1.1" />
<line x1="122.00" y1="462.60" x2="122.00" y2="465.20" stroke="#222" stroke-width="1.1" />
<line x1="202.60" y1="462.60" x2="202.60" y2="465.20" stroke="#222" stroke-width="1.1" />
<line x1="283.20" y1="462.60" x2="283.20" y2="465.20" stroke="#222" stroke-width="1.1" />
<line x1="41.40" y1="462.60" x2="36.90" y2="462.60" stroke="#222" stroke-width="1.1" />
<line x1="41.40" y1="411.18" x2="36.90" y2="411.18" stroke="#222" stroke-width="1.1" />
<line x1="41.40" y1="359.76" x2="36.90" y2="359.76" stroke="#222" stroke-width="1.1" />
<line x1="41.40" y1="308.34" x2="36.90" y2="308.34" stroke="#222" stroke-width="1.1" />
<line x1="41.40" y1="256.92" x2="36.90" y2="256.92" stroke="#222" stroke-width="1.1" />
<line x1="41.40" y1="436.89" x2="38.80" y2="436.89" stroke="#222" stroke-width="1.1" />
<line x1="41.40" y1="385.47" x2="38.80" y2="385.47" stroke="#222" stroke-width="1.1" />
<line x1="41.40" y1="334.05" x2="38.80" y2="334.05" stroke="#222" stroke-width="1.1" />
<line x1="41.40" y1="282.63" x2="38.80" y2="282.63" stroke="#222" stroke-width="1.1" />
<text x="81.70" y="478.50" font-size="11.5" font-weight="normal" text-anchor="middle" >1</text>
<text x="162.30" y="478.50" font-size="11.5" font-weight="normal" text-anchor="middle" >2</text>
<text x="242.90" y="478.50" font-size="11.5" font-weight="normal" text-anchor="middle" >3</text>
<text x="323.50" y="478.50" font-size="11.5" font-weight="normal" text-anchor="middle" >4</text>
<text x="35.20" y="465.90" font-size="11.5" font-weight="normal" text-anchor="end" >90</text>
<text x="35.20" y="414.48" font-size="11.5" font-weight="normal" text-anchor="end" >105</text>
<text x="35.20" y="363.06" font-size="11.5" font-weight="normal" text-anchor="end" >120</text>
<text x="35.20" y="311.64" font-size="11.5" font-weight="normal" text-anchor="end" >135</text>
<text x="35.20" y="260.22" font-size="11.5" font-weight="normal" text-anchor="end" >150</text>
<text x="8.20" y="264.70" font-size="19.5" font-weight="bold" text-anchor="middle" >c</text>
<text x="166.50" y="494.10" font-size="11.8" font-weight="bold" text-anchor="middle" >Lnt (h)</text>
<text transform="translate(7.9,345.5) rotate(-90)" font-size="11.6" font-weight="bold" text-anchor="middle">q<tspan font-size="7" dy="3">t</tspan><tspan dy="-3"> (mg/g)</tspan></text>
<line x1="75.00" y1="327.10" x2="287.40" y2="273.10" stroke="#000" stroke-width="1.1" />
<line x1="74.70" y1="381.50" x2="289.60" y2="371.60" stroke="#ff0000" stroke-width="1.0" />
<rect x="72.70" y="325.10" width="4.8" height="4.8" fill="#000"/>
<rect x="110.40" y="316.70" width="4.8" height="4.8" fill="#000"/>
<rect x="142.90" y="307.30" width="4.8" height="4.8" fill="#000"/>
<rect x="175.60" y="296.40" width="4.8" height="4.8" fill="#000"/>
<rect x="191.80" y="292.60" width="4.8" height="4.8" fill="#000"/>
<rect x="221.80" y="287.00" width="4.8" height="4.8" fill="#000"/>
<rect x="243.80" y="280.20" width="4.8" height="4.8" fill="#000"/>
<rect x="254.30" y="276.90" width="4.8" height="4.8" fill="#000"/>
<rect x="264.10" y="275.80" width="4.8" height="4.8" fill="#000"/>
<rect x="276.30" y="273.30" width="4.8" height="4.8" fill="#000"/>
<rect x="284.70" y="272.30" width="4.8" height="4.8" fill="#000"/>
<circle cx="75.10" cy="387.90" r="2.9" fill="#ff0000"/>
<circle cx="89.80" cy="381.60" r="2.9" fill="#ff0000"/>
<circle cx="130.60" cy="375.90" r="2.9" fill="#ff0000"/>
<circle cx="163.10" cy="373.60" r="2.9" fill="#ff0000"/>
<circle cx="178.00" cy="373.00" r="2.9" fill="#ff0000"/>
<circle cx="200.90" cy="372.80" r="2.9" fill="#ff0000"/>
<circle cx="233.60" cy="373.40" r="2.9" fill="#ff0000"/>
<circle cx="256.70" cy="371.40" r="2.9" fill="#ff0000"/>
<circle cx="269.20" cy="373.40" r="2.9" fill="#ff0000"/>
<circle cx="277.60" cy="373.40" r="2.9" fill="#ff0000"/>
<circle cx="285.00" cy="372.80" r="2.9" fill="#ff0000"/>
<circle cx="289.60" cy="371.80" r="2.9" fill="#ff0000"/>
<rect x="236.40" y="408.30" width="5.0" height="5.0" fill="#000"/>
<circle cx="238.90" cy="425.90" r="2.9" fill="#ff0000"/>
<text x="254.00" y="414.60" font-size="12.0" font-weight="bold" text-anchor="start" >pH = 4</text>
<text x="254.00" y="429.70" font-size="12.0" font-weight="bold" text-anchor="start" >pH = 8</text>
<rect x="382.50" y="258.70" width="280.90" height="206.70" fill="none" stroke="#222" stroke-width="1.1"/>
<line x1="382.50" y1="465.40" x2="382.50" y2="469.90" stroke="#222" stroke-width="1.1" />
<line x1="452.70" y1="465.40" x2="452.70" y2="469.90" stroke="#222" stroke-width="1.1" />
<line x1="522.90" y1="465.40" x2="522.90" y2="469.90" stroke="#222" stroke-width="1.1" />
<line x1="593.10" y1="465.40" x2="593.10" y2="469.90" stroke="#222" stroke-width="1.1" />
<line x1="663.30" y1="465.40" x2="663.30" y2="469.90" stroke="#222" stroke-width="1.1" />
<line x1="417.60" y1="465.40" x2="417.60" y2="468.00" stroke="#222" stroke-width="1.1" />
<line x1="487.80" y1="465.40" x2="487.80" y2="468.00" stroke="#222" stroke-width="1.1" />
<line x1="558.00" y1="465.40" x2="558.00" y2="468.00" stroke="#222" stroke-width="1.1" />
<line x1="628.20" y1="465.40" x2="628.20" y2="468.00" stroke="#222" stroke-width="1.1" />
<line x1="382.50" y1="465.40" x2="378.00" y2="465.40" stroke="#222" stroke-width="1.1" />
<line x1="382.50" y1="430.95" x2="378.00" y2="430.95" stroke="#222" stroke-width="1.1" />
<line x1="382.50" y1="396.50" x2="378.00" y2="396.50" stroke="#222" stroke-width="1.1" />
<line x1="382.50" y1="362.05" x2="378.00" y2="362.05" stroke="#222" stroke-width="1.1" />
<line x1="382.50" y1="327.60" x2="378.00" y2="327.60" stroke="#222" stroke-width="1.1" />
<line x1="382.50" y1="293.15" x2="378.00" y2="293.15" stroke="#222" stroke-width="1.1" />
<line x1="382.50" y1="258.70" x2="378.00" y2="258.70" stroke="#222" stroke-width="1.1" />
<line x1="382.50" y1="448.17" x2="379.90" y2="448.17" stroke="#222" stroke-width="1.1" />
<line x1="382.50" y1="413.72" x2="379.90" y2="413.72" stroke="#222" stroke-width="1.1" />
<line x1="382.50" y1="379.27" x2="379.90" y2="379.27" stroke="#222" stroke-width="1.1" />
<line x1="382.50" y1="344.82" x2="379.90" y2="344.82" stroke="#222" stroke-width="1.1" />
<line x1="382.50" y1="310.38" x2="379.90" y2="310.38" stroke="#222" stroke-width="1.1" />
<line x1="382.50" y1="275.92" x2="379.90" y2="275.92" stroke="#222" stroke-width="1.1" />
<text x="382.50" y="481.00" font-size="11.5" font-weight="normal" text-anchor="middle" >0</text>
<text x="452.70" y="481.00" font-size="11.5" font-weight="normal" text-anchor="middle" >1</text>
<text x="522.90" y="481.00" font-size="11.5" font-weight="normal" text-anchor="middle" >2</text>
<text x="593.10" y="481.00" font-size="11.5" font-weight="normal" text-anchor="middle" >3</text>
<text x="663.30" y="481.00" font-size="11.5" font-weight="normal" text-anchor="middle" >4</text>
<text x="375.50" y="468.70" font-size="11.5" font-weight="normal" text-anchor="end" >0</text>
<text x="375.50" y="434.25" font-size="11.5" font-weight="normal" text-anchor="end" >20</text>
<text x="375.50" y="399.80" font-size="11.5" font-weight="normal" text-anchor="end" >40</text>
<text x="375.50" y="365.35" font-size="11.5" font-weight="normal" text-anchor="end" >60</text>
<text x="375.50" y="330.90" font-size="11.5" font-weight="normal" text-anchor="end" >80</text>
<text x="375.50" y="296.45" font-size="11.5" font-weight="normal" text-anchor="end" >100</text>
<text x="375.50" y="262.00" font-size="11.5" font-weight="normal" text-anchor="end" >120</text>
<text x="349.00" y="265.00" font-size="19.5" font-weight="bold" text-anchor="middle" >d</text>
<text x="523.50" y="496.80" font-size="11.8" font-weight="bold" text-anchor="middle" >Lnt (h)</text>
<text transform="translate(349.0,355.2) rotate(-90)" font-size="11.6" font-weight="bold" text-anchor="middle">q<tspan font-size="7" dy="3">t</tspan><tspan dy="-3"> (mg/g)</tspan></text>
<line x1="410.50" y1="379.00" x2="634.30" y2="344.70" stroke="#000" stroke-width="1.1" />
<line x1="431.00" y1="321.80" x2="633.30" y2="278.60" stroke="#ff0000" stroke-width="1.0" />
<rect x="408.10" y="376.90" width="4.8" height="4.8" fill="#000"/>
<rect x="428.60" y="371.00" width="4.8" height="4.8" fill="#000"/>
<rect x="477.30" y="366.80" width="4.8" height="4.8" fill="#000"/>
<rect x="506.00" y="363.30" width="4.8" height="4.8" fill="#000"/>
<rect x="534.30" y="358.70" width="4.8" height="4.8" fill="#000"/>
<rect x="554.50" y="355.00" width="4.8" height="4.8" fill="#000"/>
<rect x="583.00" y="351.90" width="4.8" height="4.8" fill="#000"/>
<rect x="603.40" y="348.10" width="4.8" height="4.8" fill="#000"/>
<rect x="614.00" y="345.20" width="4.8" height="4.8" fill="#000"/>
<rect x="623.30" y="343.20" width="4.8" height="4.8" fill="#000"/>
<rect x="631.90" y="342.60" width="4.8" height="4.8" fill="#000"/>
<circle cx="431.00" cy="321.20" r="2.9" fill="#ff0000"/>
<circle cx="470.60" cy="310.90" r="2.9" fill="#ff0000"/>
<circle cx="495.40" cy="307.80" r="2.9" fill="#ff0000"/>
<circle cx="528.50" cy="302.60" r="2.9" fill="#ff0000"/>
<circle cx="550.70" cy="298.80" r="2.9" fill="#ff0000"/>
<circle cx="562.40" cy="296.80" r="2.9" fill="#ff0000"/>
<circle cx="585.40" cy="291.00" r="2.9" fill="#ff0000"/>
<circle cx="602.70" cy="284.80" r="2.9" fill="#ff0000"/>
<circle cx="614.10" cy="281.70" r="2.9" fill="#ff0000"/>
<circle cx="625.70" cy="278.60" r="2.9" fill="#ff0000"/>
<circle cx="634.30" cy="275.90" r="2.9" fill="#ff0000"/>
<rect x="581.50" y="393.40" width="5.0" height="5.0" fill="#000"/>
<circle cx="584.00" cy="411.00" r="2.9" fill="#ff0000"/>
<text x="599.10" y="399.70" font-size="12.0" font-weight="bold" text-anchor="start" >pH = 4</text>
<text x="599.10" y="414.80" font-size="12.0" font-weight="bold" text-anchor="start" >pH = 8</text>
</svg></body></html>
